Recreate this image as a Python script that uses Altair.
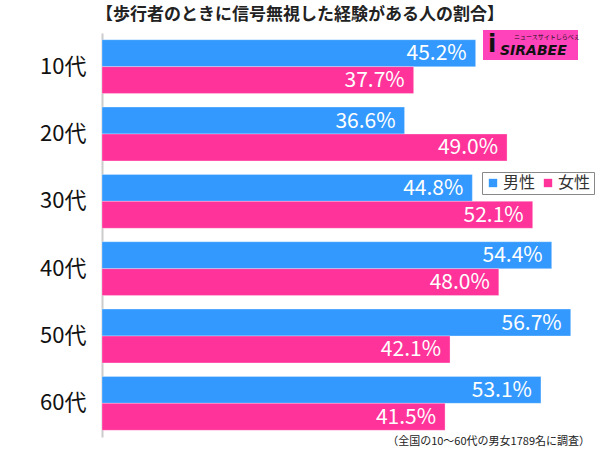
import altair as alt
import pandas as pd

ages = ["10代", "20代", "30代", "40代", "50代", "60代"]
male = [45.2, 36.6, 44.8, 54.4, 56.7, 53.1]
female = [37.7, 49.0, 52.1, 48.0, 42.1, 41.5]
series = ["男性", "女性"]
colors = ["#3399FF", "#FF3399"]
title_text = "【歩行者のときに信号無視した経験がある人の割合】"
note_text = "（全国の10～60代の男女1789名に調査）"

rows = []
for a, m, f in zip(ages, male, female):
    rows.append({"age": a, "sex": "男性", "value": m, "label": f"{m:.1f}%"})
    rows.append({"age": a, "sex": "女性", "value": f, "label": f"{f:.1f}%"})
df = pd.DataFrame(rows)

FONT = "Noto Sans CJK JP"

yscale = alt.Scale(domain=ages, paddingInner=0.2, paddingOuter=0.1)
xscale = alt.Scale(domain=[0, 60])

base = alt.Chart(df).encode(
    y=alt.Y("age:N", scale=yscale, sort=ages,
            axis=alt.Axis(title=None, labelFontSize=22, labelColor="#111",
                          labelFont=FONT, ticks=False, domainColor="#cccccc",
                          domainWidth=2, labelPadding=16)),
    yOffset=alt.YOffset("sex:N", sort=series, scale=alt.Scale(domain=series, paddingInner=0, paddingOuter=0)),
)

bars = base.mark_bar(stroke="#ffffff", strokeWidth=0.6, strokeOpacity=0.5).encode(
    x=alt.X("value:Q", scale=xscale, axis=None),
    color=alt.Color("sex:N", scale=alt.Scale(domain=series, range=colors), sort=series,
                    legend=alt.Legend(title=None, orient="none", legendX=380, legendY=139,
                                      direction="horizontal", symbolType="square",
                                      symbolSize=70, labelFontSize=16, labelFont=FONT,
                                      labelColor="#333", strokeColor="#888888",
                                      padding=3, columnPadding=4, symbolStrokeWidth=0,
                                      labelOffset=2)),
)

labels = base.mark_text(align="right", baseline="middle", dx=-9, dy=1, fontSize=21,
                        font=FONT, color="white").encode(
    x=alt.X("value:Q", scale=xscale),
    text="label:N",
)

logo_bg = alt.Chart(pd.DataFrame({"k": [0]})).mark_rect(color="#FF44BB").encode(
    x=alt.value(381), x2=alt.value(476), y=alt.value(-3), y2=alt.value(27))
logo_i = alt.Chart(pd.DataFrame({"k": [0]})).mark_text(
    text="i", font="DejaVu Sans", fontWeight="bold",
    fontSize=24, color="#111", align="left", baseline="middle").encode(
    x=alt.value(386), y=alt.value(12))
logo_txt = alt.Chart(pd.DataFrame({"k": [0]})).mark_text(
    text="SIRABEE", font="DejaVu Sans", fontWeight="bold", fontStyle="italic",
    fontSize=14, color="#111", align="left", baseline="middle").encode(
    x=alt.value(398), y=alt.value(18))
logo_small = alt.Chart(pd.DataFrame({"k": [0]})).mark_text(
    text="ニュースサイトしらべぇ", font=FONT, fontSize=6, color="#111",
    align="left", baseline="middle").encode(
    x=alt.value(412), y=alt.value(4))

note = alt.Chart(pd.DataFrame({"k": [0]})).mark_text(
    text=note_text, font=FONT, fontSize=11, color="#222",
    align="right", baseline="middle").encode(
    x=alt.value(488), y=alt.value(409))

chart = alt.layer(bars, labels, logo_bg, logo_i, logo_txt, logo_small, note).properties(
    width=496, height=404,
    padding={"left": 102, "top": 33, "right": 2, "bottom": 12},
    autosize=alt.AutoSizeParams(type="none"),
    title=alt.TitleParams(title_text, fontSize=17, fontWeight="bold", font=FONT,
                          color="#222", anchor="middle", dx=-50, offset=6),
).configure_view(stroke=None)

chart.save("out.html", embed_options={"renderer": "svg", "actions": False})
